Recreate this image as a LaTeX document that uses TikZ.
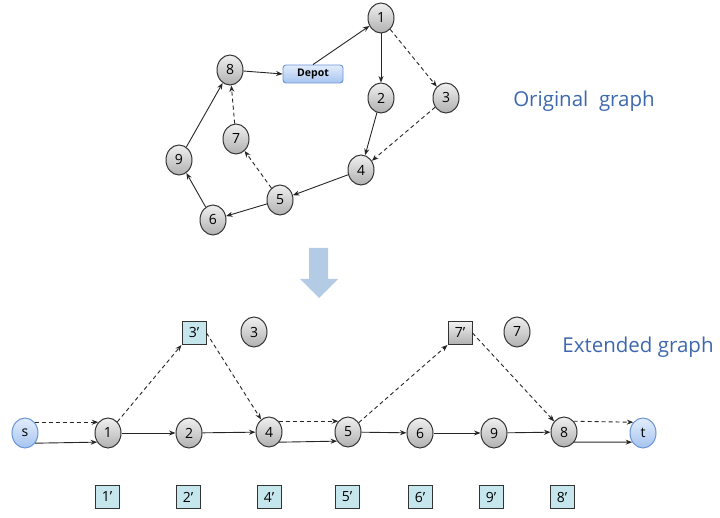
\documentclass[tikz,border=0pt]{standalone}
\usepackage{fontspec}
\setmainfont{Open Sans}
\usetikzlibrary{arrows.meta,shapes.geometric}
\definecolor{gtop}{HTML}{F0F0F0}
\definecolor{gbot}{HTML}{B0B0B0}
\definecolor{nborder}{HTML}{333333}
\definecolor{btop}{HTML}{E2EDFC}
\definecolor{bbot}{HTML}{A6C4EF}
\definecolor{bborder}{HTML}{6B93D6}
\definecolor{cyanfill}{HTML}{C6E6EE}
\definecolor{labelblue}{HTML}{3E68AE}
\definecolor{bigarrow}{HTML}{B4CBE5}
\definecolor{edgecol}{HTML}{262626}
\begin{document}
\begin{tikzpicture}[x=1pt,y=-1pt,
  gnode/.style={ellipse,draw=nborder,line width=1pt,top color=gtop,bottom color=gbot,
    minimum width=26pt,minimum height=30pt,inner sep=0pt,font=\fontsize{14}{14}\selectfont},
  stnode/.style={gnode,draw=bborder,top color=btop,bottom color=bbot},
  pbox/.style={rectangle,draw=nborder,line width=1pt,fill=cyanfill,
    minimum width=24pt,minimum height=23pt,inner sep=0pt,font=\fontsize{14}{14}\selectfont},
  gbox/.style={pbox,fill=none,top color=gtop,bottom color=gbot},
  depotbox/.style={rectangle,rounded corners=3pt,draw=bborder,line width=0.9pt,
    top color=btop,bottom color=bbot,minimum width=60pt,minimum height=18pt,inner sep=0pt,
    font=\fontsize{10.5}{10.5}\selectfont\bfseries},
  edge/.style={draw=edgecol,line width=0.9pt,-{Stealth[length=6.5pt,width=5pt]}},
  dedge/.style={edge,dash pattern=on 4pt off 3pt},
  glabel/.style={text=labelblue,font=\fontsize{20.5}{20.5}\selectfont,inner sep=0pt}
]
\useasboundingbox (0,0) rectangle (720,518);

% ---------- original graph ----------
\node[gnode] (t1) at (381,18) {1};
\node[depotbox] (dep) at (313,74) {Depot};
\node[gnode] (t8) at (230,70) {8};
\node[gnode] (t2) at (381,98) {2};
\node[gnode] (t3) at (446,98) {3};
\node[gnode] (t7) at (236,139) {7};
\node[gnode] (t9) at (179,160) {9};
\node[gnode] (t4) at (361,170) {4};
\node[gnode] (t5) at (280,200) {5};
\node[gnode] (t6) at (213,220) {6};

\draw[edge] (dep.north) -- (t1);
\draw[edge] (t1) -- (t2);
\draw[dedge] (t1) -- (t3);
\draw[edge] (t2) -- (t4);
\draw[dedge] (t3) -- (t4);
\draw[edge] (t4) -- (t5);
\draw[edge] (t5) -- (t6);
\draw[dedge] (t5) -- (t7);
\draw[edge] (t6) -- (t9);
\draw[edge] (t9) -- (t8);
\draw[dedge] (t7) -- (t8);
\draw[edge] (t8) -- (dep.west);

\node[glabel] (lorig) at (584,101) {Original\ \ graph};

% ---------- big arrow ----------
\fill[bigarrow] (309,248) -- (328,248) -- (328,279) -- (338,279) -- (319,298)
  -- (300,279) -- (309,279) -- cycle;

% ---------- extended graph ----------
\node[stnode] (s) at (25,433) {s};
\node[gnode] (b1) at (108,433) {1};
\node[gnode] (b2) at (189,433) {2};
\node[gnode] (b4) at (269,432) {4};
\node[gnode] (b5) at (348,432) {5};
\node[gnode] (b6) at (420,433) {6};
\node[gnode] (b9) at (494,433) {9};
\node[gnode] (b8) at (564,432) {8};
\node[stnode] (t) at (643,433) {t};

\node[pbox] (p3) at (194,333) {3’};
\node[gnode] (c3) at (254,332) {3};
\node[gbox] (p7) at (460,333) {7’};
\node[gnode] (c7) at (517,332) {7};

\node[pbox] (q1) at (107,497) {1’};
\node[pbox] (q2) at (188,497) {2’};
\node[pbox] (q4) at (269,497) {4’};
\node[pbox] (q5) at (347,497) {5’};
\node[pbox] (q6) at (420,497) {6’};
\node[pbox] (q9) at (491,497) {9’};
\node[pbox] (q8) at (562,497) {8’};

\draw[dedge] (s.48) -- (b1.132);
\draw[edge] (s.-45) -- (b1.-140);
\draw[edge] (b1) -- (b2);
\draw[edge] (b2) -- (b4);
\draw[dedge] (b1) -- (p3.south west);
\draw[dedge] (p3.east) -- (b4);
\draw[dedge] (b4.48) -- (b5.132);
\draw[edge] (b4.-45) -- (b5.-140);
\draw[dedge] (b5) -- (p7.south west);
\draw[edge] (b5) -- (b6);
\draw[edge] (b6) -- (b9);
\draw[edge] (b9) -- (b8);
\draw[dedge] (p7.east) -- (b8);
\draw[dedge] (b8.48) -- (t.132);
\draw[edge] (b8.-45) -- (t.-140);

\node[glabel] (lext) at (638,347) {Extended graph};
\end{tikzpicture}
\end{document}
